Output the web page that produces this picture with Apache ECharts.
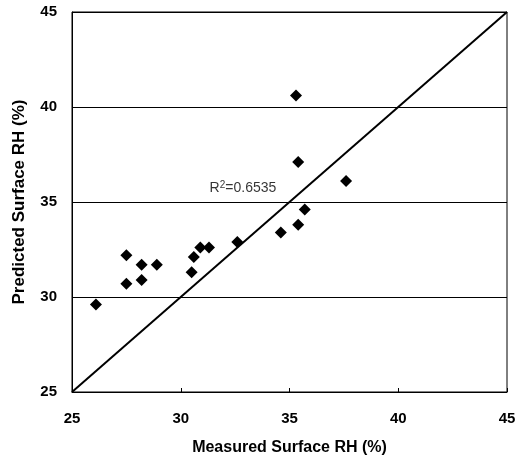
<!DOCTYPE html>
<html>
<head>
<meta charset="utf-8">
<script src="https://cdn.jsdelivr.net/npm/echarts@6/dist/echarts.min.js"></script>
<style>
  html, body { margin: 0; padding: 0; background: #fff; }
  #main { width: 525px; height: 461px; }
</style>
</head>
<body>
<div id="main"></div>
<script>
// measured vs predicted surface RH (%)
var measured = [26.1, 27.5, 27.5, 28.2, 28.2, 28.9, 30.5, 30.6, 30.9, 31.3, 32.6, 34.6, 35.3, 35.4, 35.7, 35.4, 37.6];
var predicted = [29.6, 32.2, 30.7, 31.7, 30.9, 31.7, 31.3, 32.1, 32.6, 32.6, 32.9, 33.4, 40.6, 37.1, 34.6, 33.8, 36.1];
var oneToOne = [[25, 25], [45, 45]];
var r2Pos = [32.86, 35.72];

var points = measured.map(function (m, i) { return [m, predicted[i]]; });

var myChart = echarts.init(document.getElementById('main'));
var font = 'Liberation Sans, Arial, sans-serif';

myChart.setOption({
    animation: false,
    grid: {
        left: 72,
        right: 18,
        top: 12,
        bottom: 69,
        show: true,
        borderColor: '#000',
        borderWidth: 1
    },
    xAxis: {
        type: 'value',
        min: 25,
        max: 45,
        interval: 5,
        name: 'Measured Surface RH (%)',
        nameLocation: 'middle',
        nameGap: 48,
        nameTextStyle: { color: '#000', fontSize: 16, fontWeight: 'bold', fontFamily: font },
        axisLine: { lineStyle: { color: '#000', width: 1 } },
        axisTick: { show: true, inside: true, length: 4, lineStyle: { color: '#000' } },
        axisLabel: { color: '#000', fontSize: 15, fontWeight: 'bold', fontFamily: font, margin: 19 },
        splitLine: { show: false }
    },
    yAxis: {
        type: 'value',
        min: 25,
        max: 45,
        interval: 5,
        name: 'Predicted Surface RH (%)',
        nameLocation: 'middle',
        nameGap: 44,
        nameTextStyle: { color: '#000', fontSize: 17, fontWeight: 'bold', fontFamily: font },
        axisLine: { lineStyle: { color: '#000', width: 1 } },
        axisTick: { show: true, inside: true, length: 4, lineStyle: { color: '#000' } },
        axisLabel: { color: '#000', fontSize: 15, fontWeight: 'bold', fontFamily: font, margin: 15 },
        splitLine: { show: true, lineStyle: { color: '#000', width: 1 } }
    },
    series: [
        {
            type: 'line',
            data: oneToOne,
            symbol: 'none',
            lineStyle: { color: '#000', width: 2 },
            z: 2
        },
        {
            type: 'scatter',
            data: points,
            symbol: 'diamond',
            symbolSize: 12,
            itemStyle: { color: '#000', opacity: 1 },
            z: 3
        },
        {
            type: 'scatter',
            data: [r2Pos],
            symbolSize: 0,
            silent: true,
            label: {
                show: true,
                position: 'inside',
                formatter: '{a|R}{s|2}{a|=0.6535}',
                rich: {
                    a: { color: '#000', fontSize: 14, fontFamily: font },
                    s: { color: '#000', fontSize: 10, fontFamily: font, verticalAlign: 'top', padding: [0, 0, 6, 0] }
                }
            }
        }
    ]
});
</script>
</body>
</html>
